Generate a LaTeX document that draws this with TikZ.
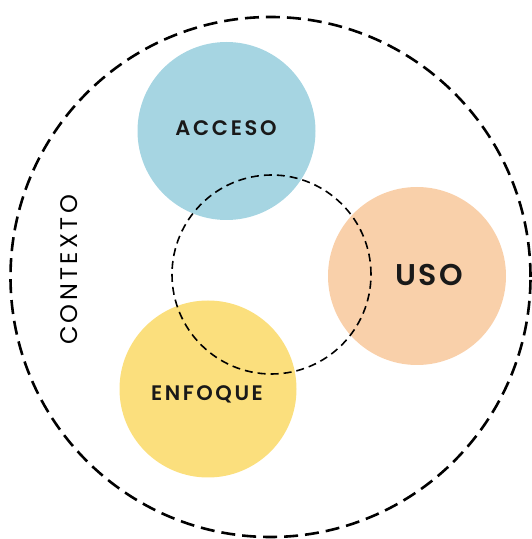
\documentclass[tikz,border=0pt]{standalone}
\usepackage{fontspec}
\setmainfont{Poppins}[BoldFont=* SemiBold]
\usepackage{tikz}

\definecolor{accesoblue}{RGB}{166,213,226}
\definecolor{usopeach}{RGB}{249,208,170}
\definecolor{enfoqueyellow}{RGB}{251,223,125}

\begin{document}
\begin{tikzpicture}[x=1pt,y=1pt,line cap=butt,
    lbl/.style={font=\bfseries\addfontfeatures{LetterSpace=13}\fontsize{21}{21}\selectfont,text=black!90}]
  \useasboundingbox (0,0) rectangle (532,539);

  % the three filled areas
  \fill[accesoblue]    (226.5,408) circle[radius=89];
  \fill[usopeach]      (417,263)   circle[radius=89];
  \fill[enfoqueyellow] (208,150)   circle[radius=88.5];

  % inner and outer dashed rings
  \draw[dash pattern=on 8pt off 5pt,line width=1.6pt] (271.5,264.5) circle[radius=99.5];
  \draw[dash pattern=on 14pt off 7pt,line width=2.6pt] (270.5,262) circle[radius=260];

  \node[lbl] (acceso) at (226,411) {ACCESO};
  \node[lbl,font=\bfseries\addfontfeatures{LetterSpace=8}\fontsize{30}{30}\selectfont] (uso) at (429,264) {USO};
  \node[lbl,font=\bfseries\addfontfeatures{LetterSpace=12}\fontsize{21}{21}\selectfont] (enfoque) at (207,145) {ENFOQUE};
  \node[rotate=90,font=\addfontfeatures{LetterSpace=14}\fontsize{24}{24}\selectfont] (contexto) at (69,269) {CONTEXTO};
\end{tikzpicture}
\end{document}
